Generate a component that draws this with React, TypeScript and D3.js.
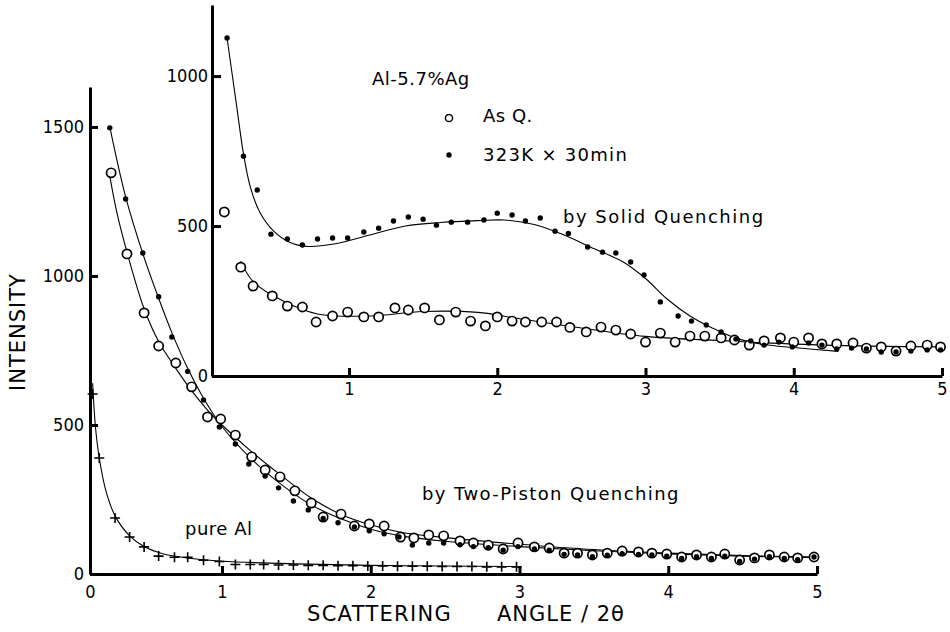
import React, { useEffect, useRef } from 'react';
import * as d3 from 'd3';

// tick values
const mainTicksX = [0, 1, 2, 3, 4, 5];
const mainTicksY = [0, 500, 1000, 1500];
const insetTicksX = [1, 2, 3, 4, 5];
const insetTicksY = [0, 500, 1000];

// main panel: two-piston quenching (open = as quenched, filled = 323K x 30min)
const pistonAsQ = [[0.16,1346],[0.28,1074],[0.41,876],[0.52,765],[0.65,708],[0.77,628],[0.89,527],[0.99,520],[1.09,466],[1.2,393],[1.29,349],[1.39,326],[1.49,279],[1.6,238],[1.68,191],[1.8,201],[1.89,161],[1.99,168],[2.09,161],[2.2,124],[2.29,121],[2.39,131],[2.49,128],[2.6,111],[2.69,104],[2.79,97],[2.89,84],[2.99,104],[3.1,91],[3.2,87],[3.3,70],[3.39,70],[3.49,64],[3.59,70],[3.69,77],[3.8,74],[3.89,70],[3.99,67],[4.09,57],[4.19,64],[4.29,57],[4.38,67],[4.48,47],[4.58,54],[4.68,64],[4.78,57],[4.87,54],[4.98,57]];
const pistonAged = [[0.15,1497],[0.27,1258],[0.4,1077],[0.52,930],[0.62,795],[0.74,680],[0.86,584],[0.98,493],[1.09,436],[1.18,369],[1.29,329],[1.38,289],[1.48,245],[1.58,215],[1.68,186],[1.78,172],[1.89,158],[1.99,145],[2.09,135],[2.19,124],[2.28,97],[2.39,104],[2.49,104],[2.6,98],[2.69,92],[2.79,88],[2.89,80],[2.99,92],[3.1,84],[3.2,80],[3.3,66],[3.39,64],[3.49,58],[3.59,63],[3.69,68],[3.8,66],[3.89,64],[3.99,60],[4.09,52],[4.19,58],[4.29,52],[4.38,60],[4.48,42],[4.58,50],[4.68,58],[4.78,52],[4.87,48],[4.98,57]];
const pistonAsQFit = [[0.14,1360],[0.2,1220],[0.28,1080],[0.41,890],[0.52,780],[0.65,690],[0.77,615],[0.89,550],[1.0,500],[1.2,410],[1.4,330],[1.6,255],[1.8,200],[2.0,165],[2.2,140],[2.5,122],[3.0,100],[3.5,82],[4.0,70],[4.5,62],[5.0,57]];
const pistonAgedFit = [[0.15,1500],[0.27,1265],[0.4,1075],[0.52,925],[0.62,810],[0.74,690],[0.86,590],[1.0,495],[1.2,385],[1.4,300],[1.6,232],[1.8,185],[2.0,150],[2.2,128],[2.5,110],[3.0,92],[3.5,78],[4.0,67],[4.5,60],[5.0,55]];

// pure Al
const pureAl = [[0.02,604],[0.07,389],[0.19,188],[0.3,124],[0.41,91],[0.52,60],[0.64,56],[0.74,56],[0.86,46],[0.98,42],[1.09,32],[1.19,32],[1.28,32],[1.38,30],[1.48,30],[1.58,29],[1.68,29],[1.78,28],[1.88,28],[1.98,27],[2.08,27],[2.18,26],[2.28,26],[2.38,26],[2.48,25],[2.58,25],[2.68,25],[2.78,24],[2.88,24],[2.98,24]];
const pureAlFit = [[0.02,640],[0.04,500],[0.07,390],[0.12,280],[0.19,195],[0.3,128],[0.41,92],[0.55,68],[0.75,53],[1.0,43],[1.5,34],[2.0,29],[2.5,27],[3.0,25]];

// inset: solid quenching
const solidAsQ = [[0.09,547],[0.21,363],[0.3,300],[0.44,267],[0.55,233],[0.66,230],[0.76,180],[0.88,200],[0.99,213],[1.1,197],[1.2,197],[1.31,227],[1.4,220],[1.51,227],[1.61,187],[1.72,213],[1.82,183],[1.92,167],[2.0,197],[2.1,183],[2.19,180],[2.3,180],[2.4,180],[2.49,162],[2.6,147],[2.7,163],[2.8,153],[2.9,140],[3.0,113],[3.1,143],[3.2,113],[3.3,133],[3.4,133],[3.51,127],[3.6,120],[3.7,103],[3.8,117],[3.91,127],[4.0,113],[4.1,127],[4.19,107],[4.29,107],[4.4,110],[4.49,93],[4.59,97],[4.69,83],[4.79,100],[4.9,103],[4.99,97]];
const solidAged = [[0.11,1127],[0.23,733],[0.33,620],[0.43,473],[0.55,457],[0.66,437],[0.77,457],[0.88,460],[0.99,460],[1.1,480],[1.2,493],[1.3,517],[1.4,530],[1.5,523],[1.59,503],[1.69,513],[1.8,513],[1.91,520],[2.0,543],[2.1,537],[2.19,517],[2.29,527],[2.39,483],[2.48,475],[2.61,430],[2.71,413],[2.8,410],[2.9,380],[2.99,337],[3.1,247],[3.22,200],[3.31,183],[3.41,170],[3.51,147],[3.61,123],[3.71,117],[3.8,103],[3.9,113],[3.99,97],[4.1,110],[4.19,103],[4.29,90],[4.39,93],[4.49,90],[4.59,80],[4.69,80],[4.79,83],[4.9,87],[4.99,87]];
const solidAsQFit = [[0.21,383],[0.3,315],[0.52,250],[0.77,207],[1.14,200],[1.5,215],[1.87,212],[2.1,195],[2.5,165],[3.0,132],[3.55,117],[4.2,103],[5.0,97]];
const solidAgedFit = [[0.11,1127],[0.18,900],[0.23,740],[0.28,630],[0.35,545],[0.45,483],[0.57,445],[0.7,432],[0.89,440],[1.14,470],[1.38,500],[1.62,512],[1.87,518],[2.05,520],[2.25,505],[2.45,470],[2.65,425],[2.85,380],[3.0,325],[3.15,255],[3.3,200],[3.45,160],[3.6,128],[3.8,105],[4.0,95],[4.3,82]];

const FONT = '"DejaVu Sans", sans-serif';
const TICKFONT = '"DejaVu Sans Condensed", "DejaVu Sans", sans-serif';

export default function App() {
    const chartRef = useRef(null);

    const width = 950;
    const height = 632;

    // main scales (scanned axis: 0 sits a bit right of where 1..5 would put it)
    const xMain = d3.scaleLinear().domain([0, 1, 5]).range([90, 222, 817]);
    const yMain = d3.scaleLinear().domain([0, 1634]).range([574, 87]);
    const xIn = d3.scaleLinear().domain([0, 1, 5]).range([212, 349, 942]);
    const yIn = d3.scaleLinear().domain([0, 1237]).range([376, 5]);

    useEffect(() => {
        const svg = d3.select(chartRef.current);
        svg.selectAll("*").remove();

        const styleAxis = (g, w) => {
            g.select(".domain").attr("stroke", "#000").attr("stroke-width", w);
            g.selectAll(".tick line").attr("stroke", "#000").attr("stroke-width", w);
            g.selectAll(".tick text")
                .attr("fill", "#000")
                .style("font-family", TICKFONT)
                .style("font-size", "18px");
        };

        // ---- main axes
        const gx = svg.append("g")
            .attr("transform", `translate(0,${yMain(0)})`)
            .call(d3.axisBottom(xMain).tickValues(mainTicksX).tickSize(-8).tickSizeOuter(0).tickPadding(11).tickFormat(d3.format("d")));
        styleAxis(gx, 3);

        const gy = svg.append("g")
            .attr("transform", `translate(${xMain(0)},0)`)
            .call(d3.axisLeft(yMain).tickValues(mainTicksY).tickSize(-8).tickSizeOuter(0).tickPadding(6).tickFormat(d3.format("d")));
        styleAxis(gy, 3);
        gy.selectAll(".tick text").attr("x", -6);

        // ---- inset axes
        const ix = svg.append("g")
            .attr("transform", `translate(0,${yIn(0)})`)
            .call(d3.axisBottom(xIn).tickValues(insetTicksX).tickSize(-8).tickSizeOuter(0).tickPadding(6).tickFormat(d3.format("d")));
        styleAxis(ix, 3);

        const iy = svg.append("g")
            .attr("transform", `translate(${xIn(0)},0)`)
            .call(d3.axisLeft(yIn).tickValues(insetTicksY).tickSize(-9).tickSizeOuter(0).tickPadding(4).tickFormat(d3.format("d")));
        styleAxis(iy, 3);
        iy.selectAll(".tick text").attr("x", -4);

        // ---- curves
        const drawFit = (data, xs, ys) => {
            svg.append("path")
                .datum(data)
                .attr("fill", "none")
                .attr("stroke", "#000")
                .attr("stroke-width", 1.1)
                .attr("d", d3.line().x(d => xs(d[0])).y(d => ys(d[1])).curve(d3.curveCatmullRom.alpha(0.5)));
        };
        drawFit(pistonAsQFit, xMain, yMain);
        drawFit(pistonAgedFit, xMain, yMain);
        drawFit(pureAlFit, xMain, yMain);
        drawFit(solidAsQFit, xIn, yIn);
        drawFit(solidAgedFit, xIn, yIn);

        // ---- markers
        const drawDots = (data, xs, ys) => {
            svg.append("g").selectAll("circle")
                .data(data)
                .enter()
                .append("circle")
                    .attr("cx", d => xs(d[0]))
                    .attr("cy", d => ys(d[1]))
                    .attr("r", 2.7)
                    .attr("fill", "#000");
        };
        const drawRings = (data, xs, ys) => {
            svg.append("g").selectAll("circle")
                .data(data)
                .enter()
                .append("circle")
                    .attr("cx", d => xs(d[0]))
                    .attr("cy", d => ys(d[1]))
                    .attr("r", 4.6)
                    .attr("fill", "#fff")
                    .attr("stroke", "#000")
                    .attr("stroke-width", 1.7);
        };
        drawRings(pistonAsQ, xMain, yMain);
        drawDots(pistonAged, xMain, yMain);
        drawRings(solidAsQ, xIn, yIn);
        drawDots(solidAged, xIn, yIn);

        svg.append("g").selectAll("path")
            .data(pureAl)
            .enter()
            .append("path")
                .attr("transform", d => `translate(${xMain(d[0])},${yMain(d[1])})`)
                .attr("d", "M-5,0H5M0,-5V5")
                .attr("stroke", "#000")
                .attr("stroke-width", 1.6);

        // ---- texts
        const label = (x, y, txt, size, spacing = 0.5) =>
            svg.append("text")
                .attr("x", x)
                .attr("y", y)
                .style("font-family", FONT)
                .style("font-size", `${size}px`)
                .style("letter-spacing", `${spacing}px`)
                .attr("fill", "#000")
                .text(txt);

        label(372, 85, "Al-5.7%Ag", 18);
        label(483, 122, "As  Q.", 18);
        label(483, 161, "323K × 30min", 18, 1.3);
        label(563, 223, "by  Solid  Quenching", 18, 1.5);
        label(422, 500, "by  Two-Piston  Quenching", 18, 1.4);
        label(185, 535, "pure  Al", 18);

        svg.append("circle").attr("cx", 449).attr("cy", 118).attr("r", 3.6)
            .attr("fill", "#fff").attr("stroke", "#000").attr("stroke-width", 1.5);
        svg.append("circle").attr("cx", 449).attr("cy", 155).attr("r", 2.7).attr("fill", "#000");

        // axis titles
        label(307, 621, "SCATTERING", 21, 1.3);
        label(497, 621, "ANGLE / 2θ", 21, 1);

        svg.append("text")
            .attr("transform", "translate(25,332) rotate(-90)")
            .attr("text-anchor", "middle")
            .style("font-family", FONT)
            .style("font-size", "21px")
            .style("letter-spacing", "1px")
            .attr("fill", "#000")
            .text("INTENSITY");
    });

    return (
        <svg ref={chartRef}
            width={width}
            height={height}
            viewBox={`0 0 ${width} ${height}`}
            style={{ position: "absolute", left: 0, top: 0, background: "#fff" }}>
        </svg>
    );
}
